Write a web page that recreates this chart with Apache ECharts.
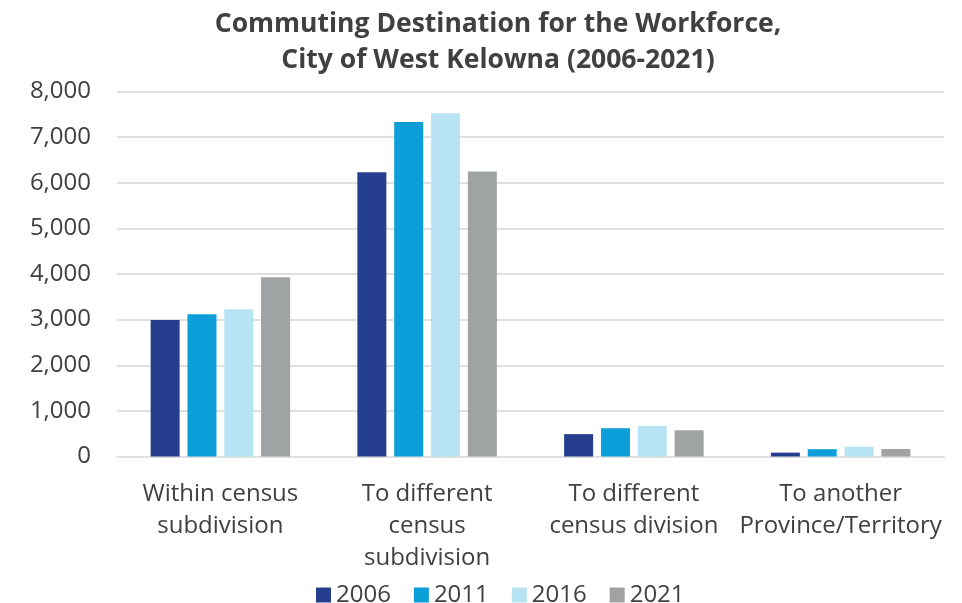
<!DOCTYPE html>
<html>
<head>
<meta charset="utf-8">
<script src="https://cdn.jsdelivr.net/npm/echarts@6/dist/echarts.min.js"></script>
<style>
  html, body { margin: 0; padding: 0; background: #fff; }
  #chart { width: 962px; height: 603px; }
</style>
</head>
<body>
<div id="chart"></div>
<script>
// Commuting destination categories (x axis)
const categories = [
  'Within census\nsubdivision',
  'To different\ncensus\nsubdivision',
  'To different\ncensus division',
  'To another\nProvince/Territory'
];

// Workers by commuting destination, per census year
const values2006 = [2990, 6230, 490, 85];
const values2011 = [3120, 7330, 620, 160];
const values2016 = [3230, 7525, 670, 215];
const values2021 = [3930, 6245, 575, 165];

const years = ['2006', '2011', '2016', '2021'];
const yTicks = [0, 1000, 2000, 3000, 4000, 5000, 6000, 7000, 8000];

const colors = ['#253F8E', '#0B9ED9', '#B7E3F4', '#9FA3A4'];
const textColor = '#404040';
const font = '"Open Sans", "Noto Sans", sans-serif';

const seriesData = [values2006, values2011, values2016, values2021];

const chart = echarts.init(document.getElementById('chart'), null, { renderer: 'canvas' });

chart.setOption({
  animation: false,
  color: colors,
  title: {
    text: 'Commuting Destination for the Workforce,\nCity of West Kelowna (2006-2021)',
    left: 493,
    textAlign: 'center',
    top: 1,
    textStyle: {
      fontFamily: font,
      fontWeight: 'bold',
      fontSize: 26.5,
      lineHeight: 36,
      color: textColor
    }
  },
  legend: {
    data: years,
    top: 578,
    left: 311,
    itemWidth: 15,
    itemHeight: 15,
    itemGap: 23,
    icon: 'rect',
    textStyle: { fontFamily: font, fontSize: 24, color: textColor }
  },
  grid: {
    left: 117,
    right: 18,
    top: 91.5,
    bottom: 146.5,
    containLabel: false
  },
  xAxis: {
    type: 'category',
    data: categories,
    axisTick: { show: false },
    axisLine: { show: true, lineStyle: { color: '#e0e0e0', width: 2 } },
    axisLabel: {
      interval: 0,
      margin: 22,
      fontFamily: font,
      fontSize: 24,
      lineHeight: 32,
      color: textColor
    }
  },
  yAxis: {
    type: 'value',
    min: yTicks[0],
    max: yTicks[yTicks.length - 1],
    interval: 1000,
    axisLine: { show: false },
    axisTick: { show: false },
    splitLine: { lineStyle: { color: '#e0e0e0', width: 2 } },
    axisLabel: {
      margin: 26,
      fontFamily: font,
      fontSize: 24,
      color: textColor,
      formatter: v => v.toLocaleString('en-US')
    }
  },
  series: years.map((y, i) => ({
    name: y,
    type: 'bar',
    data: seriesData[i],
    barWidth: 29,
    barGap: '27%',
    itemStyle: { color: colors[i] }
  }))
});
</script>
</body>
</html>
